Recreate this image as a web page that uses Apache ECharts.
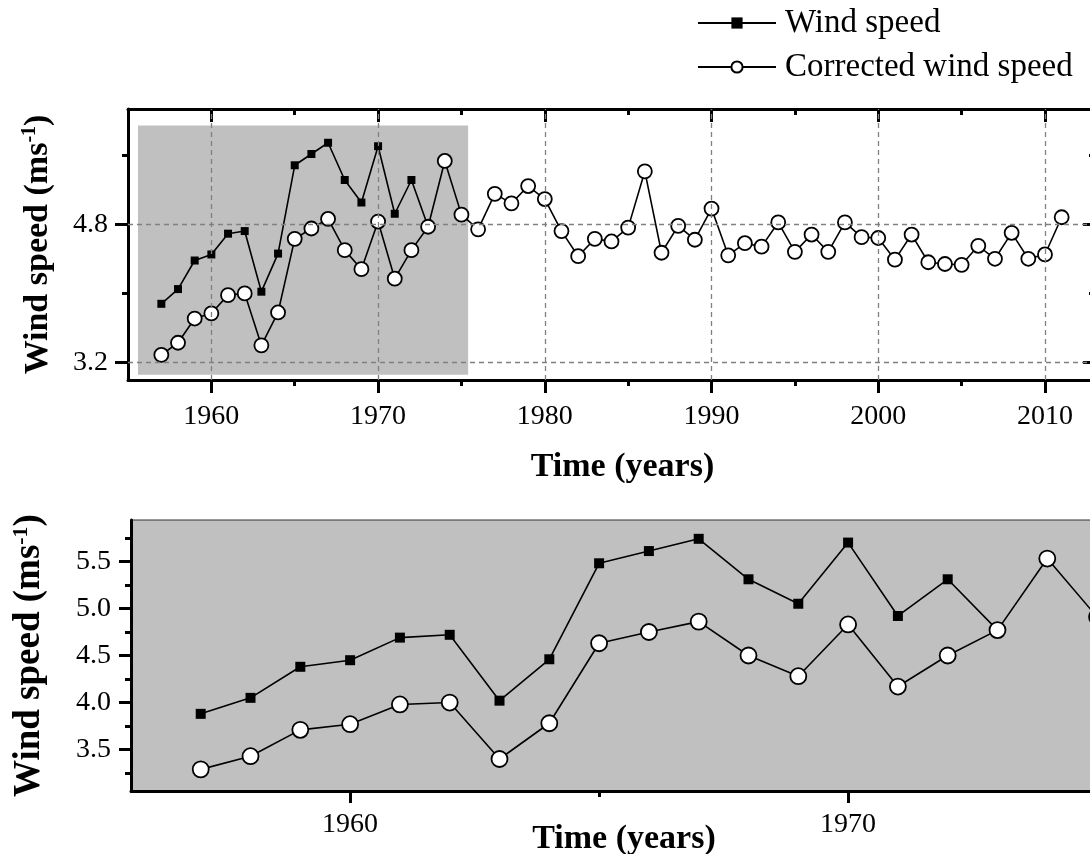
<!DOCTYPE html>
<html>
<head>
<meta charset="utf-8">
<script src="https://cdn.jsdelivr.net/npm/echarts@6/dist/echarts.min.js"></script>
<style>
html,body{margin:0;padding:0;background:#fff;}
#chart{width:1090px;height:854px;}
</style>
</head>
<body>
<div id="chart"></div>
<script>
// ---------- data ----------
const years = [1957,1958,1959,1960,1961,1962,1963,1964,1965,1966,1967,1968,1969,1970,1971,1972,1973,1974,1975,1976,
  1977,1978,1979,1980,1981,1982,1983,1984,1985,1986,1987,1988,1989,1990,1991,1992,1993,1994,1995,1996,
  1997,1998,1999,2000,2001,2002,2003,2004,2005,2006,2007,2008,2009,2010,2011];
// Wind speed (measured), 1957-1973 (from 1973 on identical to corrected)
const windSpeed = [3.88,4.05,4.38,4.45,4.69,4.72,4.02,4.46,5.48,5.61,5.74,5.31,5.05,5.70,4.92,5.31,4.77];
// Corrected wind speed, 1957-2011
const correctedSpeed = [3.29,3.43,3.71,3.77,3.98,4.00,3.40,3.78,4.63,4.75,4.86,4.50,4.28,4.83,4.17,4.50,4.77,5.53,4.91,4.74,
  5.15,5.04,5.24,5.09,4.72,4.43,4.63,4.60,4.76,5.41,4.47,4.78,4.62,4.98,4.44,4.58,4.54,4.82,4.48,4.68,
  4.48,4.82,4.65,4.64,4.39,4.68,4.36,4.34,4.33,4.55,4.40,4.70,4.40,4.45,4.88];

// tick labels / tick positions
const topXMajor = [1960,1970,1980,1990,2000,2010];
const topXMinor = [1965,1975,1985,1995,2005];
const topYMajor = [3.2,4.8];
const topYMinor = [4.0,5.6];
const botXMajor = [1960,1970];
const botXMinor = [1965,1975];
const botYMajor = [3.5,4.0,4.5,5.0,5.5];
const botYMinor = [3.25,3.75,4.25,4.75,5.25,5.75];
// axis ranges
const topX = [1955, 2013];
const topY = [3.0, 6.13];
// highlighted (zoomed) region = range of the lower panel
const zoomX = [1955.6, 1975.4];
const zoomY = [3.06, 5.94];

const FONT = 'Liberation Serif';
const windData = windSpeed.map((v,i)=>[years[i], v]);
const corrData = correctedSpeed.map((v,i)=>[years[i], v]);

const topRect = {left:128, top:109, width:967, height:271, outerBoundsMode:'none', containLabel:false};
const botRect = {left:131, top:520, width:986, height:271, outerBoundsMode:'none', containLabel:false};

function xAxis(grid, pos, min, max, ticks, len, inside, labels, showLine, margin, extra){
  return Object.assign({
    type:'value', gridIndex:grid, position:pos, min:min, max:max,
    axisLine:{show:showLine, onZero:false, lineStyle:{color:'#000', width:3}},
    axisTick:{show:true, inside:inside, length:len, customValues:ticks, lineStyle:{color:'#000', width:3}},
    axisLabel:{show:!!labels, customValues:labels||ticks, margin:margin||14, color:'#000', fontFamily:FONT, fontSize:28, formatter:v=>String(Math.round(v))},
    splitLine:{show:false}
  }, extra||{});
}
function yAxis(grid, pos, min, max, ticks, len, inside, labels, showLine, extra){
  return Object.assign({
    type:'value', gridIndex:grid, position:pos, min:min, max:max,
    axisLine:{show:showLine, onZero:false, lineStyle:{color:'#000', width:3}},
    axisTick:{show:true, inside:inside, length:len, customValues:ticks, lineStyle:{color:'#000', width:3}},
    axisLabel:{show:!!labels, customValues:labels||ticks, margin:20, color:'#000', fontFamily:FONT, fontSize:28, formatter:v=>v.toFixed(1)},
    splitLine:{show:false}
  }, extra||{});
}

const yName = (gap, fs) => ({
  name:'{t|Wind speed (ms}{s|-1}{t|)}',
  nameLocation:'middle', nameGap:gap, nameMoveOverlap:false,
  nameTextStyle:{
    rich:{
      t:{fontFamily:FONT, fontSize:fs, fontWeight:'bold', color:'#000'},
      s:{fontFamily:FONT, fontSize:Math.round(fs*0.6), fontWeight:'bold', color:'#000', padding:[0,0,Math.round(fs*0.47),0]}
    }
  }
});
const xName = (gap, pad) => ({
  name:'Time (years)', nameLocation:'middle', nameGap:gap, nameMoveOverlap:false,
  nameTextStyle:{fontFamily:FONT, fontSize:34, fontWeight:'bold', color:'#000', padding:pad}
});

const option = {
  animation:false,
  backgroundColor:'#fff',
  legend:{
    data:['Wind speed','Corrected wind speed'],
    orient:'vertical', left:697, top:4, padding:0,
    itemWidth:78, itemHeight:14, itemGap:6,
    textStyle:{fontFamily:FONT, fontSize:33, color:'#000', lineHeight:38, padding:[0,0,0,4]},
    selectedMode:false
  },
  grid:[
    Object.assign({}, topRect),
    Object.assign({}, topRect),
    Object.assign({show:true, backgroundColor:'#c0c0c0', borderColor:'#333', borderWidth:1}, botRect),
    Object.assign({}, botRect)
  ],
  xAxis:[
    xAxis(0,'bottom',topX[0],topX[1],topXMajor,13,false,topXMajor,true,23, xName(70,[0,0,0,22])),
    xAxis(0,'top',topX[0],topX[1],topXMajor,13,true,null,true),
    xAxis(1,'bottom',topX[0],topX[1],topXMinor,6,false,null,false),
    xAxis(1,'top',topX[0],topX[1],topXMinor,6,true,null,false),
    xAxis(2,'bottom',zoomX[0],zoomX[1],botXMajor,12,false,botXMajor,true,20, xName(31,[0,0,0,0])),
    xAxis(3,'bottom',zoomX[0],zoomX[1],botXMinor,6,false,null,false)
  ],
  yAxis:[
    yAxis(0,'left',topY[0],topY[1],topYMajor,13,false,topYMajor,true, yName(72,34)),
    yAxis(0,'right',topY[0],topY[1],topYMajor,12,true,null,true),
    yAxis(1,'left',topY[0],topY[1],topYMinor,6,false,null,false),
    yAxis(1,'right',topY[0],topY[1],topYMinor,6,true,null,false),
    yAxis(2,'left',zoomY[0],zoomY[1],botYMajor,12,false,botYMajor,true, yName(82,37)),
    yAxis(3,'left',zoomY[0],zoomY[1],botYMinor,6,false,null,false)
  ],
  series:[
    {
      type:'line', xAxisIndex:0, yAxisIndex:0, data:[], z:1, silent:true,
      markArea:{silent:true, itemStyle:{color:'#c0c0c0'}, data:[[{coord:[zoomX[0],zoomY[0]]},{coord:[zoomX[1],zoomY[1]]}]]}
    },
    {
      type:'line', xAxisIndex:0, yAxisIndex:0, data:[], z:1.5, silent:true,
      markLine:{silent:true, symbol:'none', label:{show:false},
        lineStyle:{color:'#808080', type:[5,4], width:1.3},
        data: topXMajor.map(v=>({xAxis:v})).concat(topYMajor.map(v=>({yAxis:v})))}
    },
    {
      name:'Wind speed', type:'line', xAxisIndex:0, yAxisIndex:0, data:windData, z:3,
      symbol:'rect', symbolSize:8, lineStyle:{color:'#000', width:1.6}, itemStyle:{color:'#000'}
    },
    {
      name:'Corrected wind speed', type:'line', xAxisIndex:0, yAxisIndex:0, data:corrData, z:4,
      symbol:'circle', symbolSize:14, lineStyle:{color:'#000', width:1.6}, itemStyle:{color:'#fff', borderColor:'#000', borderWidth:1.8}
    },
    {
      name:'Wind speed', type:'line', xAxisIndex:4, yAxisIndex:4, data:windData, z:3,
      symbol:'rect', symbolSize:10, lineStyle:{color:'#000', width:1.6}, itemStyle:{color:'#000'}
    },
    {
      name:'Corrected wind speed', type:'line', xAxisIndex:4, yAxisIndex:4, data:corrData, z:4,
      symbol:'circle', symbolSize:16, lineStyle:{color:'#000', width:1.6}, itemStyle:{color:'#fff', borderColor:'#000', borderWidth:1.8}
    }
  ]
};
const chart = echarts.init(document.getElementById('chart'), null, {renderer:'canvas'});
chart.setOption(option);
</script>
</body>
</html>
